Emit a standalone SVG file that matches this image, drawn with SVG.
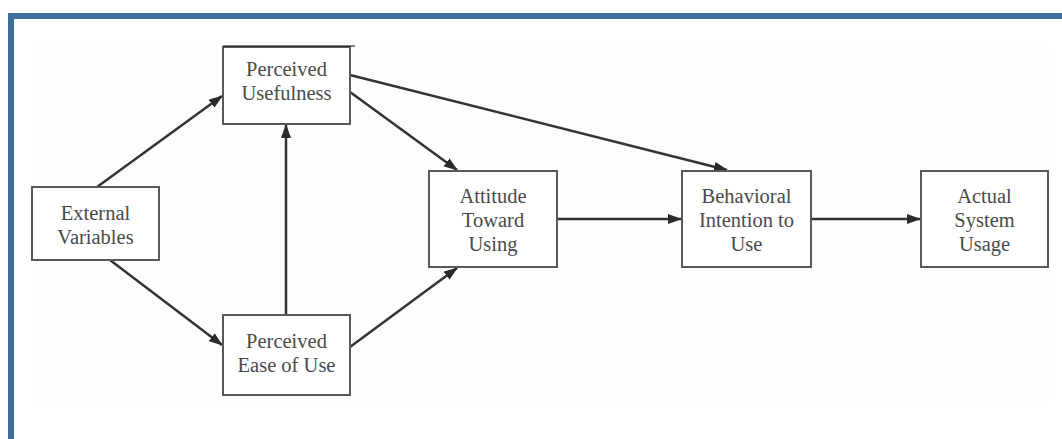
<svg xmlns="http://www.w3.org/2000/svg" width="1062" height="439" viewBox="0 0 1062 439">
<style>
.box{fill:#ffffff;stroke:#595959;stroke-width:2}
.lbl{font-family:'Liberation Serif','Times New Roman','DejaVu Serif',serif;font-size:20.5px;fill:#4a4a4a;text-anchor:middle}
.edge{stroke:#333333;stroke-width:2.5;fill:none;marker-end:url(#ah)}
</style>
<defs>
<marker id="ah" markerWidth="14" markerHeight="10" refX="13" refY="5" orient="auto" markerUnits="userSpaceOnUse">
<path d="M0,0 L14,5 L0,10 Z" fill="#2b2b2b"/>
</marker>
</defs>
<rect x="0" y="0" width="1062" height="439" fill="#ffffff"/>
<rect x="32" y="47" width="1018" height="355" fill="#fdfdfd"/>
<path d="M11,439 L11,16 L1062,16" fill="none" stroke="#3f6e9c" stroke-width="6"/>
<g id="connectors">
<line class="edge" x1="97" y1="187" x2="222" y2="96"/>
<line class="edge" x1="110" y1="260" x2="222" y2="345"/>
<line class="edge" x1="286" y1="315" x2="286" y2="125"/>
<line class="edge" x1="350" y1="92" x2="457" y2="170"/>
<line class="edge" x1="350" y1="75" x2="727" y2="170"/>
<line class="edge" x1="350" y1="347" x2="457" y2="268"/>
<line class="edge" x1="557" y1="219" x2="681" y2="219"/>
<line class="edge" x1="811" y1="219" x2="920" y2="219"/>
</g>
<g id="perceived-usefulness">
<rect class="box" x="223" y="47" width="127" height="77"/>
<line x1="223" y1="46" x2="355" y2="46" stroke="#000000" stroke-width="1"/>
<text class="lbl" font-family="Liberation Serif, serif" x="286.5" y="76">Perceived</text>
<text class="lbl" font-family="Liberation Serif, serif" x="286.5" y="100">Usefulness</text>
</g>
<g id="external-variables">
<rect class="box" x="32" y="187" width="127" height="73"/>
<text class="lbl" x="95.5" y="220">External</text>
<text class="lbl" x="95.5" y="244">Variables</text>
</g>
<g id="perceived-ease-of-use">
<rect class="box" x="223" y="315" width="127" height="80"/>
<text class="lbl" x="286.5" y="348">Perceived</text>
<text class="lbl" x="286.5" y="372">Ease of Use</text>
</g>
<g id="attitude-toward-using">
<rect class="box" x="429" y="171" width="128" height="96"/>
<text class="lbl" x="493" y="203">Attitude</text>
<text class="lbl" x="493" y="227">Toward</text>
<text class="lbl" x="493" y="251">Using</text>
</g>
<g id="behavioral-intention">
<rect class="box" x="682" y="171" width="129" height="96"/>
<text class="lbl" x="746.5" y="203">Behavioral</text>
<text class="lbl" x="746.5" y="227">Intention to</text>
<text class="lbl" x="746.5" y="251">Use</text>
</g>
<g id="actual-system-usage">
<rect class="box" x="921" y="171" width="127" height="96"/>
<text class="lbl" x="984.5" y="203">Actual</text>
<text class="lbl" x="984.5" y="227">System</text>
<text class="lbl" x="984.5" y="251">Usage</text>
</g>
</svg>
